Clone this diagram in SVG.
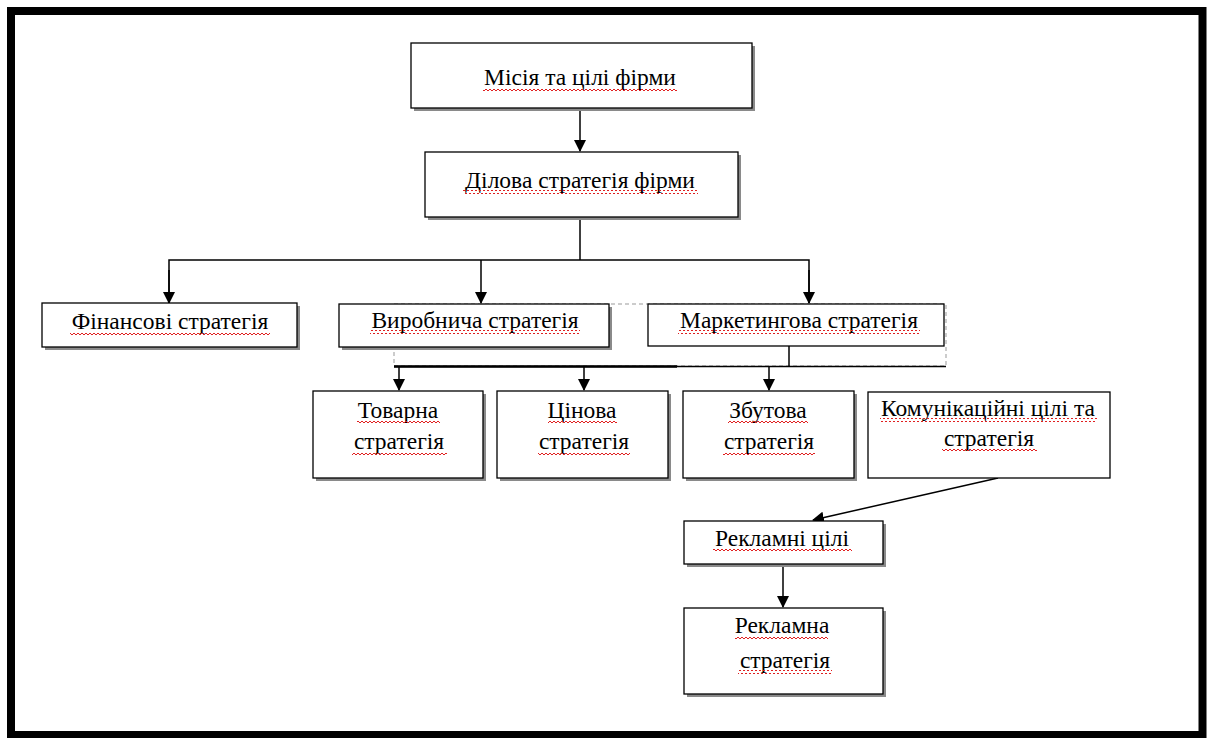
<svg xmlns="http://www.w3.org/2000/svg" width="1210" height="738" viewBox="0 0 1210 738">
<style>
.box{fill:#fff;stroke:#000;stroke-width:1.3}
.sh{fill:#8a8a8a}
.t{font-family:'Liberation Serif','DejaVu Serif',serif;font-size:23.5px;fill:#000;text-anchor:middle}
.c{stroke:#000;stroke-width:1.5;fill:none}
.d{stroke:#999;stroke-width:1;stroke-dasharray:4 3;fill:none}
.w{fill:url(#wave)}
</style>
<defs>
<marker id="ah" markerWidth="12" markerHeight="12" refX="11" refY="6" orient="auto" markerUnits="userSpaceOnUse">
<path d="M0,0 L12,6 L0,12 Z" fill="#000"/>
</marker>
<pattern id="wave" width="4" height="4" patternUnits="userSpaceOnUse">
<path d="M0,3 L2,1 L4,3" stroke="#e02020" stroke-width="1" fill="none"/>
</pattern>
</defs>
<rect x="0" y="0" width="1210" height="738" fill="#fff"/>
<rect x="11" y="11" width="1191.5" height="724" fill="none" stroke="#000" stroke-width="8"/>
<g id="connectors">
<line class="c" x1="580" y1="108" x2="580" y2="151" marker-end="url(#ah)"/>
<line class="c" x1="580" y1="217" x2="580" y2="260"/>
<polyline class="c" points="169,303 169,260 809,260 809,303"/>
<line class="c" x1="169" y1="270" x2="169" y2="303" marker-end="url(#ah)"/>
<line class="c" x1="481" y1="260" x2="481" y2="303" marker-end="url(#ah)"/>
<line class="c" x1="809" y1="270" x2="809" y2="303" marker-end="url(#ah)"/>
<rect class="d" x="394" y="304" width="552" height="62"/>
<line class="c" x1="789" y1="346" x2="789" y2="366"/>
<line x1="394" y1="366.5" x2="946" y2="366.5" stroke="#000" stroke-width="1.5"/>
<line x1="394" y1="366.5" x2="677" y2="366.5" stroke="#000" stroke-width="2.5"/>
<line class="c" x1="399" y1="366" x2="399" y2="390" marker-end="url(#ah)"/>
<line class="c" x1="584" y1="366" x2="584" y2="390" marker-end="url(#ah)"/>
<line class="c" x1="769" y1="366" x2="769" y2="390" marker-end="url(#ah)"/>
<line class="c" x1="998" y1="478" x2="813" y2="520" marker-end="url(#ah)"/>
<line class="c" x1="783" y1="564" x2="783" y2="607" marker-end="url(#ah)"/>
</g>
<g id="n1">
<rect class="sh" x="414" y="46" width="341" height="65"/>
<rect class="box" x="411" y="43" width="341" height="65"/>
<text class="t" x="580" y="85">Місія та цілі фірми</text>
<rect class="w" x="483" y="87" width="194" height="4"/>
</g>
<g id="n2">
<rect class="sh" x="428" y="155" width="313" height="65"/>
<rect class="box" x="425" y="152" width="313" height="65"/>
<text class="t" x="580" y="188">Ділова стратегія фірми</text>
<rect class="w" x="463" y="190" width="235" height="4"/>
</g>
<g id="n3">
<rect class="sh" x="45" y="306" width="255" height="44"/>
<rect class="box" x="42" y="303" width="255" height="44"/>
<text class="t" x="170" y="329">Фінансові стратегія</text>
<rect class="w" x="70" y="331" width="200" height="4"/>
</g>
<g id="n4">
<rect class="sh" x="342" y="307" width="270" height="43"/>
<rect class="box" x="339" y="304" width="270" height="43"/>
<text class="t" x="475" y="328">Виробнича стратегія</text>
<rect class="w" x="370" y="330" width="210" height="4"/>
</g>
<g id="n5">
<rect class="box" x="648" y="304" width="296" height="42"/>
<text class="t" x="799" y="328">Маркетингова стратегія</text>
<rect class="w" x="678" y="330" width="242" height="4"/>
</g>
<g id="n6">
<rect class="sh" x="316" y="394" width="170" height="87"/>
<rect class="box" x="313" y="391" width="170" height="87"/>
<text class="t" x="398" y="418">Товарна</text>
<text class="t" x="399" y="449">стратегія</text>
<rect class="w" x="357" y="420" width="83" height="4"/>
<rect class="w" x="352" y="451" width="95" height="4"/>
</g>
<g id="n7">
<rect class="sh" x="500" y="394" width="171" height="87"/>
<rect class="box" x="497" y="391" width="171" height="87"/>
<text class="t" x="582" y="418">Цінова</text>
<text class="t" x="584" y="449">стратегія</text>
<rect class="w" x="548" y="420" width="69" height="4"/>
<rect class="w" x="538" y="451" width="92" height="4"/>
</g>
<g id="n8">
<rect class="sh" x="686" y="394" width="171" height="87"/>
<rect class="box" x="683" y="391" width="171" height="87"/>
<text class="t" x="768" y="418">Збутова</text>
<text class="t" x="769" y="449">стратегія</text>
<rect class="w" x="728" y="420" width="80" height="4"/>
<rect class="w" x="723" y="451" width="92" height="4"/>
</g>
<g id="n9">
<rect class="box" x="868" y="392" width="242" height="86"/>
<text class="t" x="988" y="416">Комунікаційні цілі та</text>
<text class="t" x="989" y="446">стратегія</text>
<rect class="w" x="880" y="418" width="217" height="4"/>
<rect class="w" x="942" y="448" width="95" height="4"/>
</g>
<g id="n10">
<rect class="sh" x="687" y="524" width="199" height="43"/>
<rect class="box" x="684" y="521" width="199" height="43"/>
<text class="t" x="782" y="546">Рекламні цілі</text>
<rect class="w" x="713" y="548" width="139" height="4"/>
</g>
<g id="n11">
<rect class="sh" x="687" y="611" width="199" height="86"/>
<rect class="box" x="684" y="608" width="199" height="86"/>
<text class="t" x="782" y="633">Рекламна</text>
<text class="t" x="785" y="668">стратегія</text>
<rect class="w" x="735" y="635" width="93" height="4"/>
<rect class="w" x="738" y="670" width="94" height="4"/>
</g>
</svg>
